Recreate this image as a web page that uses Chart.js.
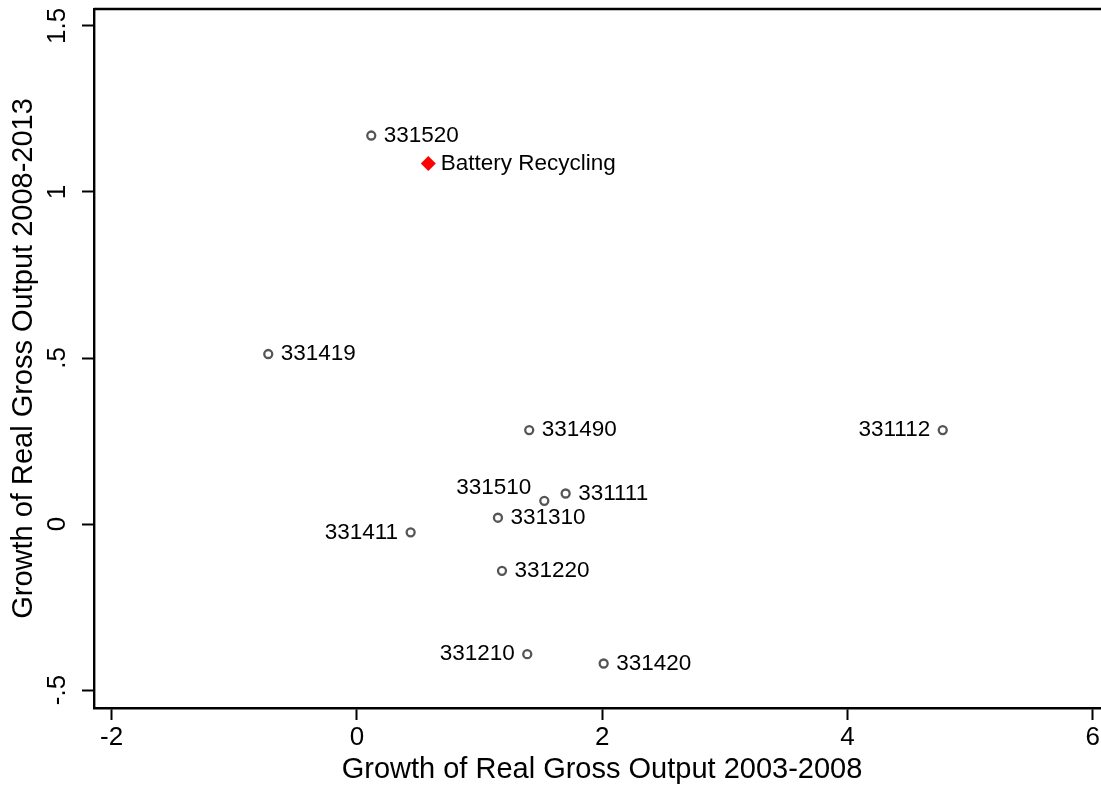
<!DOCTYPE html>
<html>
<head>
<meta charset="utf-8">
<script src="https://cdn.jsdelivr.net/npm/chart.js@4"></script>
<style>
    html, body { margin: 0; padding: 0; background: #fff; overflow: hidden; width: 1101px; height: 789px; }
    canvas { display: block; }
</style>
</head>
<body>
<canvas id="scatter" width="1140" height="789"></canvas>
<script>
// industry codes (NAICS) and their growth rates
const industryCodes = ["331520", "331419", "331490", "331112", "331510", "331111", "331310", "331411", "331220", "331210", "331420"];
const growth0308 = [0.117, -0.723, 1.405, 4.777, 1.528, 1.702, 1.150, 0.438, 1.183, 1.389, 2.012];
const growth0813 = [1.170, 0.512, 0.283, 0.283, 0.070, 0.092, 0.019, -0.025, -0.141, -0.392, -0.420];
// Stata-style clock positions of the marker labels
const labelClock = [3, 3, 3, 9, 10, 3, 3, 9, 3, 9, 3];

const highlightName = "Battery Recycling";
const highlightX = [0.582];
const highlightY = [1.086];

const xTicks = [-2, 0, 2, 4, 6];
const xTickLabels = ["-2", "0", "2", "4", "6"];
const yTicks = [-0.5, 0, 0.5, 1, 1.5];
const yTickLabels = ["-.5", "0", ".5", "1", "1.5"];

const xTitle = "Growth of Real Gross Output 2003-2008";
const yTitle = "Growth of Real Gross Output 2008-2013";

const FONT = "'Liberation Sans', Helvetica, Arial, sans-serif";

const industryPoints = industryCodes.map((c, i) => ({ x: growth0308[i], y: growth0813[i] }));
const highlightPoints = highlightX.map((x, i) => ({ x: x, y: highlightY[i] }));

// draws the box top edge (left/bottom come from the axes)
const plotBox = {
    id: "plotBox",
    afterDraw(chart) {
        const a = chart.chartArea;
        const ctx = chart.ctx;
        ctx.save();
        ctx.strokeStyle = "#000";
        ctx.lineWidth = 2.4;
        ctx.beginPath();
        ctx.moveTo(a.left, a.top);
        ctx.lineTo(a.right, a.top);
        ctx.lineTo(a.right, a.bottom);
        ctx.stroke();
        ctx.restore();
    },
};

// marker labels
const markerLabels = {
    id: "markerLabels",
    afterDatasetsDraw(chart) {
        const ctx = chart.ctx;
        ctx.save();
        ctx.font = "22.5px " + FONT;
        ctx.fillStyle = "#000";
        ctx.textBaseline = "middle";
        const gap = 12.5;

        chart.getDatasetMeta(0).data.forEach((pt, i) => {
            const pos = labelClock[i];
            let x = pt.x, y = pt.y;
            if (pos === 3) {
                ctx.textAlign = "left";
                x += gap;
            } else if (pos === 9) {
                ctx.textAlign = "right";
                x -= gap;
            } else if (pos === 10) {
                ctx.textAlign = "right";
                x -= 13;
                y -= 13.4;
            }
            ctx.fillText(industryCodes[i], x, y);
        });

        chart.getDatasetMeta(1).data.forEach((pt) => {
            ctx.textAlign = "left";
            ctx.fillText(highlightName, pt.x + gap, pt.y);
        });
        ctx.restore();
    },
};

new Chart(document.getElementById("scatter"), {
    type: "scatter",
    data: {
        datasets: [
            {
                label: "Industries",
                data: industryPoints,
                pointStyle: "circle",
                pointRadius: 4,
                pointBorderWidth: 2.3,
                borderColor: "#555555",
                backgroundColor: "rgba(255,255,255,0)",
                pointHoverRadius: 4,
            },
            {
                label: highlightName,
                data: highlightPoints,
                pointStyle: "rectRot",
                pointRadius: 7.5,
                pointBorderWidth: 0,
                borderColor: "#ff0000",
                backgroundColor: "#ff0000",
            },
        ],
    },
    options: {
        responsive: false,
        animation: false,
        events: [],
        layout: { padding: { left: 0, right: 30, top: 9, bottom: 0 } },
        plugins: {
            legend: { display: false },
            tooltip: { enabled: false },
        },
        scales: {
            x: {
                type: "linear",
                min: -2.144,
                max: 6.141,
                afterBuildTicks: (scale) => {
                    scale.ticks = xTicks.map((v) => ({ value: v }));
                },
                afterFit: (scale) => {
                    scale.height = 81;
                    scale.paddingLeft = 0;
                    scale.paddingRight = 0;
                },
                ticks: {
                    autoSkip: false,
                    maxRotation: 0,
                    padding: 2,
                    color: "#000",
                    font: { family: FONT, size: 26 },
                    callback: (v) => xTickLabels[xTicks.indexOf(v)],
                },
                grid: {
                    display: true,
                    drawOnChartArea: false,
                    drawTicks: true,
                    tickLength: 12,
                    tickWidth: 2,
                    tickColor: "#000",
                },
                border: { display: true, color: "#000", width: 2.4 },
                title: {
                    display: true,
                    text: xTitle,
                    color: "#000",
                    font: { family: FONT, size: 29 },
                    padding: { top: 0, bottom: 2 },
                },
            },
            y: {
                type: "linear",
                min: -0.554,
                max: 1.551,
                afterBuildTicks: (scale) => {
                    scale.ticks = yTicks.map((v) => ({ value: v }));
                },
                afterFit: (scale) => {
                    scale.width = 94;
                    scale.paddingTop = 0;
                    scale.paddingBottom = 0;
                },
                ticks: {
                    autoSkip: false,
                    minRotation: 90,
                    maxRotation: 90,
                    crossAlign: "center",
                    padding: 6.5,
                    color: "#000",
                    font: { family: FONT, size: 26 },
                    callback: (v) => yTickLabels[yTicks.indexOf(v)],
                },
                grid: {
                    display: true,
                    drawOnChartArea: false,
                    drawTicks: true,
                    tickLength: 12,
                    tickWidth: 2,
                    tickColor: "#000",
                },
                border: { display: true, color: "#000", width: 2.4 },
                title: {
                    display: true,
                    text: yTitle,
                    color: "#000",
                    font: { family: FONT, size: 29 },
                    padding: { top: 6.6, bottom: 0 },
                },
            },
        },
    },
    plugins: [plotBox, markerLabels],
});
</script>
</body>
</html>
